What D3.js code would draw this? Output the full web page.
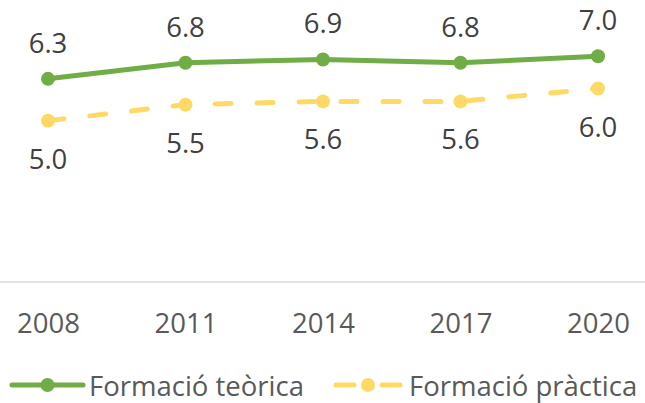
<!DOCTYPE html>
<html>
<head>
<meta charset="utf-8">
<script src="https://cdn.jsdelivr.net/npm/d3@7"></script>
<style>
  body { margin: 0; background: #fff; }
  text { font-family: "Open Sans", sans-serif; }
</style>
</head>
<body>
<div id="chart"></div>
<script>
// data
var years = ['2008', '2011', '2014', '2017', '2020'];
var teorica = [6.3, 6.8, 6.9, 6.8, 7.0];
var practica = [5.0, 5.5, 5.6, 5.6, 6.0];
var series_names = ['Formació teòrica', 'Formació pràctica'];

var width = 645, height = 403;

var svg = d3.select('#chart')
    .append('svg')
    .attr('width', width)
    .attr('height', height);

var x = d3.scalePoint()
    .domain(years)
    .range([48, 598]);

var y = d3.scaleLinear()
    .domain([0, 8])
    .range([282, 24]);

// axis line
svg.append('line')
    .attr('x1', 0)
    .attr('x2', width)
    .attr('y1', y(0))
    .attr('y2', y(0))
    .style('stroke', '#d9d9d9')
    .style('stroke-width', 1.5);

// x labels
var xAxis = d3.axisBottom(x).tickSize(0).tickPadding(0);
var gx = svg.append('g')
    .attr('transform', 'translate(0,' + (y(0)) + ')')
    .call(xAxis);
gx.select('.domain').remove();
gx.selectAll('text')
    .attr('dy', null)
    .attr('y', 51)
    .style('font-size', '27.5px')
    .style('font-family', '"Open Sans", sans-serif')
    .style('fill', '#595959');

var series = [
    {name: series_names[0], vals: teorica, color: '#70ad47', dash: null, labelDy: -26},
    {name: series_names[1], vals: practica, color: '#ffd966', dash: '16,26', labelDy: 48}
];

var line = d3.line()
    .x(function(d, i) { return x(years[i]); })
    .y(function(d) { return y(d); });

series.forEach(function(s) {
    var g = svg.append('g');

    g.append('path')
        .datum(s.vals)
        .attr('d', line)
        .style('fill', 'none')
        .style('stroke', s.color)
        .style('stroke-width', 5)
        .style('stroke-linecap', 'round')
        .style('stroke-dasharray', s.dash);

    g.selectAll('circle')
        .data(s.vals)
        .enter()
        .append('circle')
        .attr('cx', function(d, i) { return x(years[i]); })
        .attr('cy', function(d) { return y(d); })
        .attr('r', 7)
        .style('fill', s.color);

    g.selectAll('text')
        .data(s.vals)
        .enter()
        .append('text')
        .attr('x', function(d, i) { return x(years[i]); })
        .attr('y', function(d) { return y(d) + s.labelDy; })
        .style('text-anchor', 'middle')
        .style('font-size', '27.5px')
        .style('fill', '#404040')
        .text(function(d) { return d3.format('.1f')(d); });
});

// legend
var legendY = 385;
var legendItems = [
    {s: series[0], x0: 12, x1: 83, tx: 89},
    {s: series[1], x0: 336, x1: 400, tx: 409}
];
legendItems.forEach(function(l) {
    var lg = svg.append('g');
    lg.append('line')
        .attr('x1', l.x0)
        .attr('x2', l.x1)
        .attr('y1', legendY)
        .attr('y2', legendY)
        .style('stroke', l.s.color)
        .style('stroke-width', 5)
        .style('stroke-linecap', 'round')
        .style('stroke-dasharray', l.s.dash ? '18,28' : null);
    lg.append('circle')
        .attr('cx', (l.x0 + l.x1) / 2)
        .attr('cy', legendY)
        .attr('r', 7)
        .style('fill', l.s.color);
    lg.append('text')
        .attr('x', l.tx)
        .attr('y', 396)
        .style('font-size', '27.5px')
        .style('fill', '#595959')
        .text(l.s.name);
});
</script>
</body>
</html>
